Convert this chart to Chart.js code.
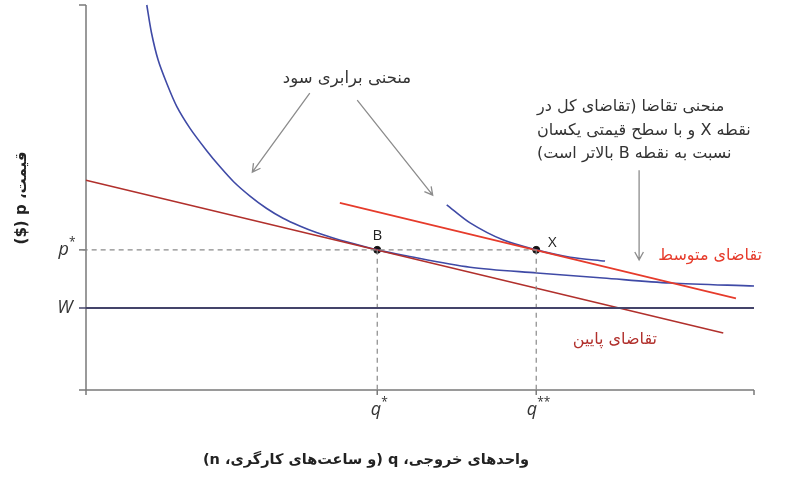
<!DOCTYPE html>
<html>
<head>
<meta charset="utf-8">
<script src="https://cdn.jsdelivr.net/npm/chart.js@4/dist/chart.umd.min.js"></script>
<style>
  body { margin: 0; background: #fff; }
  canvas { display: block; }
</style>
</head>
<body>
<canvas id="myChart" width="810" height="500"></canvas>
<script>
// values (axes run 0..100 on both sides)
var qStar = 43.6;
var qStarStar = 67.4;
var priceStar = 36.4;
var wageLevel = 21.3;

var lowDemandX = [0, 95.4];
var lowDemandY = [54.5, 14.8];

var midDemandX = [38.0, 97.3];
var midDemandY = [48.6, 23.8];

var isoLowX = [9.1, 9.8, 10.8, 12.1, 13.6, 15.6, 18.1, 20.1, 22.1, 24.6, 27.0, 29.5, 32.0, 34.5, 37.0, 39.0, 43.6, 47.5, 57.5, 67.5, 77.4, 87.4, 100];
var isoLowY = [100, 92.8, 85.7, 79.6, 73.6, 67.9, 62.1, 57.9, 54.1, 50.3, 47.2, 44.6, 42.6, 40.9, 39.5, 38.5, 36.4, 35.0, 31.9, 30.4, 29.1, 27.8, 27.0];

var isoHighX = [54.0, 57.5, 62.4, 67.4, 72.5, 77.7];
var isoHighY = [48.1, 43.4, 39.0, 36.4, 34.5, 33.5];

var pointNames = ["B", "X"];
var yTickLabels = ["p", "W"];
var xTickLabels = ["q", "q"];

// arrows: [fromX, fromY, toX, toY]
var arrowList = [
  [33.5, 77.1, 24.9, 56.6],
  [40.6, 75.3, 51.9, 50.6],
  [82.8, 57.1, 82.8, 33.8]
];

function pairs(xs, ys) {
  var out = [];
  for (var i = 0; i < xs.length; i++) {
    out.push({ x: xs[i], y: ys[i] });
  }
  return out;
}

var blue = "#3f4aa6";
var midRed = "#e63b2b";
var lowRed = "#b1302c";
var wageColor = "#44446a";
var axisGray = "#7a7a7a";
var dashGray = "#8a8a8a";

var extras = {
  id: "extras",
  beforeDatasetsDraw: function (chart) {
    var ctx = chart.ctx;
    var xs = chart.scales.x, ys = chart.scales.y;
    var left = xs.getPixelForValue(0), right = xs.getPixelForValue(100);
    var bottom = ys.getPixelForValue(0), top = ys.getPixelForValue(100);
    ctx.save();
    ctx.strokeStyle = axisGray;
    ctx.lineWidth = 1.5;
    ctx.beginPath();
    // y axis + top tick
    ctx.moveTo(left, top); ctx.lineTo(left, bottom + 5);
    ctx.moveTo(left - 7, top); ctx.lineTo(left, top);
    // x axis + end tick
    ctx.moveTo(left - 7, bottom); ctx.lineTo(right, bottom);
    ctx.moveTo(right, bottom); ctx.lineTo(right, bottom + 5);
    // ticks at q*, q**
    ctx.moveTo(xs.getPixelForValue(qStar), bottom); ctx.lineTo(xs.getPixelForValue(qStar), bottom + 5);
    ctx.moveTo(xs.getPixelForValue(qStarStar), bottom); ctx.lineTo(xs.getPixelForValue(qStarStar), bottom + 5);
    ctx.stroke();
    // small tick at p*, W
    ctx.beginPath();
    ctx.moveTo(left - 7, ys.getPixelForValue(priceStar)); ctx.lineTo(left, ys.getPixelForValue(priceStar));
    ctx.stroke();
    ctx.strokeStyle = wageColor;
    ctx.beginPath();
    ctx.moveTo(left - 7, ys.getPixelForValue(wageLevel)); ctx.lineTo(left, ys.getPixelForValue(wageLevel));
    ctx.stroke();
    ctx.restore();
  },
  afterDatasetsDraw: function (chart) {
    var ctx = chart.ctx;
    var xs = chart.scales.x, ys = chart.scales.y;
    ctx.save();

    // arrows
    ctx.strokeStyle = "#8c8c8c";
    ctx.lineWidth = 1.3;
    arrowList.forEach(function (a) {
      var x1 = xs.getPixelForValue(a[0]), y1 = ys.getPixelForValue(a[1]);
      var x2 = xs.getPixelForValue(a[2]), y2 = ys.getPixelForValue(a[3]);
      var ang = Math.atan2(y2 - y1, x2 - x1);
      ctx.beginPath();
      ctx.moveTo(x1, y1); ctx.lineTo(x2, y2);
      ctx.moveTo(x2 - 9 * Math.cos(ang - 0.5), y2 - 9 * Math.sin(ang - 0.5));
      ctx.lineTo(x2, y2);
      ctx.lineTo(x2 - 9 * Math.cos(ang + 0.5), y2 - 9 * Math.sin(ang + 0.5));
      ctx.stroke();
    });

    // point names
    ctx.fillStyle = "#222";
    ctx.font = "15px 'Open Sans'";
    ctx.textAlign = "center";
    ctx.textBaseline = "middle";
    ctx.fillText(pointNames[0], xs.getPixelForValue(qStar), ys.getPixelForValue(priceStar) - 14);
    ctx.fillText(pointNames[1], xs.getPixelForValue(qStarStar) + 16, ys.getPixelForValue(priceStar) - 7);

    // tick labels
    ctx.fillStyle = "#333";
    ctx.font = "italic 18px 'Open Sans'";
    ctx.textAlign = "right";
    var pY = ys.getPixelForValue(priceStar);
    ctx.fillText(yTickLabels[0], 69, pY);
    ctx.font = "12px 'Open Sans'";
    ctx.textAlign = "left";
    ctx.fillText("*", 69, pY - 7);
    ctx.font = "italic 18px 'Open Sans'";
    ctx.textAlign = "center";
    ctx.fillText(yTickLabels[1], 65, ys.getPixelForValue(wageLevel));

    var qx1 = xs.getPixelForValue(qStar), qx2 = xs.getPixelForValue(qStarStar);
    ctx.textAlign = "right";
    ctx.fillText(xTickLabels[0], qx1 + 4, 410);
    ctx.fillText(xTickLabels[1], qx2 + 1, 410);
    ctx.font = "12px 'Open Sans'";
    ctx.textAlign = "left";
    ctx.fillText("*", qx1 + 4, 403);
    ctx.fillText("**", qx2 + 1, 403);

    // persian labels
    ctx.direction = "rtl";
    ctx.font = "16.5px 'DejaVu Sans'";
    ctx.fillStyle = "#333";
    ctx.textAlign = "center";
    ctx.fillText("منحنی برابری سود", 347, 79);

    ctx.textAlign = "left";
    ctx.font = "16px 'DejaVu Sans'";
    ctx.fillText("منحنی تقاضا (تقاضای کل در", 537, 107);
    ctx.fillText("نقطه X و با سطح قیمتی یکسان", 537, 131);
    ctx.fillText("نسبت به نقطه B بالاتر است)", 537, 154);

    ctx.fillStyle = midRed;
    ctx.font = "16px 'DejaVu Sans'";
    ctx.textAlign = "right";
    ctx.fillText("تقاضای متوسط", 762, 256);
    ctx.fillStyle = lowRed;
    ctx.fillText("تقاضای پایین", 657, 340);

    ctx.fillStyle = "#222";
    ctx.font = "bold 14.5px 'DejaVu Sans'";
    ctx.textAlign = "center";
    ctx.fillText("واحدهای خروجی، q (و ساعت‌های کارگری، n)", 366, 460);

    ctx.translate(22, 198);
    ctx.rotate(-Math.PI / 2);
    ctx.font = "bold 15px 'DejaVu Sans'";
    ctx.fillText("قیمت، p ($)", 0, 0);

    ctx.restore();
  }
};

new Chart("myChart", {
  type: "scatter",
  data: {
    datasets: [
      {
        data: [{ x: 0, y: wageLevel }, { x: 100, y: wageLevel }],
        showLine: true, borderColor: wageColor, borderWidth: 2, pointRadius: 0
      },
      {
        data: [{ x: -0.5, y: priceStar }, { x: qStarStar, y: priceStar }],
        showLine: true, borderColor: dashGray, borderWidth: 1.2, borderDash: [5, 4], pointRadius: 0
      },
      {
        data: [{ x: qStar, y: priceStar }, { x: qStar, y: 0 }],
        showLine: true, borderColor: dashGray, borderWidth: 1.2, borderDash: [5, 4], pointRadius: 0
      },
      {
        data: [{ x: qStarStar, y: priceStar }, { x: qStarStar, y: 0 }],
        showLine: true, borderColor: dashGray, borderWidth: 1.2, borderDash: [5, 4], pointRadius: 0
      },
      {
        data: pairs(lowDemandX, lowDemandY),
        showLine: true, borderColor: lowRed, borderWidth: 1.6, pointRadius: 0
      },
      {
        data: pairs(midDemandX, midDemandY),
        showLine: true, borderColor: midRed, borderWidth: 1.6, pointRadius: 0
      },
      {
        data: pairs(isoLowX, isoLowY),
        showLine: true, borderColor: blue, borderWidth: 1.6, pointRadius: 0,
        tension: 0.3
      },
      {
        data: pairs(isoHighX, isoHighY),
        showLine: true, borderColor: blue, borderWidth: 1.6, pointRadius: 0,
        tension: 0.3
      },
      {
        data: [{ x: qStar, y: priceStar }, { x: qStarStar, y: priceStar }],
        showLine: false, pointRadius: 3.5, pointBackgroundColor: "#111", pointBorderColor: "#111"
      }
    ]
  },
  options: {
    responsive: false,
    animation: false,
    clip: false,
    layout: { padding: { left: 86, right: 56, top: 5, bottom: 110 } },
    plugins: { legend: { display: false }, tooltip: { enabled: false } },
    scales: {
      x: { type: "linear", min: 0, max: 100, display: false },
      y: { type: "linear", min: 0, max: 100, display: false }
    }
  },
  plugins: [extras]
});
</script>
</body>
</html>
